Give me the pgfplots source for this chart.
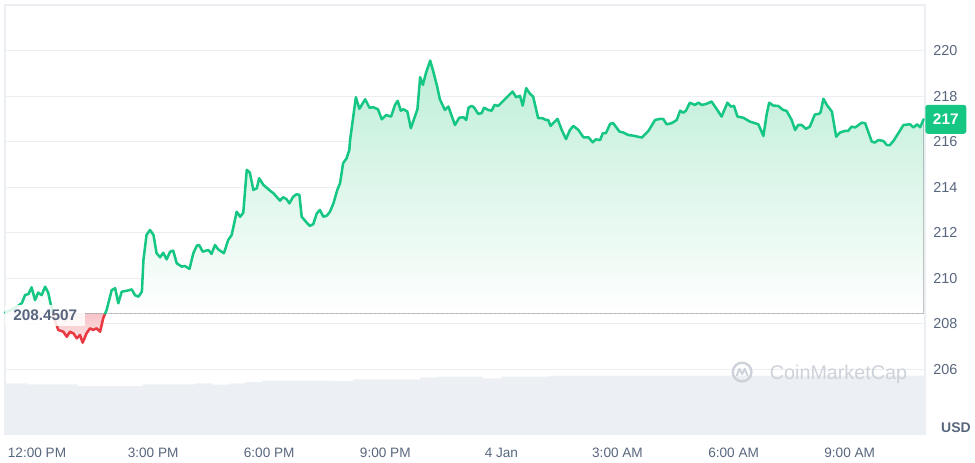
\documentclass[border=0pt]{standalone}
\usepackage{fontspec}
\setmainfont{Liberation Sans}
\usepackage{pgfplots}
\pgfplotsset{compat=1.18}
\usepgfplotslibrary{fillbetween}
\usepackage{pgfplotstable}

\definecolor{cmcgreen}{HTML}{16C784}
\definecolor{cmcred}{HTML}{EA3943}
\definecolor{tickgray}{HTML}{58667E}
\definecolor{gridgray}{HTML}{EBEEF2}
\definecolor{volgray}{HTML}{ECEFF3}
\definecolor{fillgreen}{HTML}{BDEED7}
\definecolor{fillred}{HTML}{F8C3C7}
\definecolor{wmgray}{HTML}{CDD2DA}
\definecolor{dotgray}{HTML}{A3ABB8}

\pgfplotstableread{
t p
11.173 208.49
11.43 208.69
11.61 208.91
11.69 209.26
11.78 209.31
11.86 209.60
11.95 209.04
12.03 209.37
12.12 209.26
12.21 209.63
12.29 209.37
12.34 208.97
12.41 208.45
12.44 208.25
12.55 207.73
12.68 207.65
12.77 207.43
12.85 207.65
12.94 207.58
13.03 207.36
13.11 207.51
13.18 207.17
13.28 207.58
13.37 207.80
13.45 207.73
13.54 207.80
13.63 207.65
13.71 208.24
13.76 208.45
13.80 208.61
13.93 209.48
14.02 209.56
14.10 208.90
14.19 209.41
14.32 209.45
14.45 209.51
14.53 209.26
14.62 209.19
14.71 209.41
14.75 210.80
14.83 211.90
14.92 212.12
15.01 211.90
15.09 211.10
15.18 210.92
15.26 211.12
15.35 210.83
15.44 211.17
15.52 211.21
15.61 210.66
15.74 210.51
15.82 210.54
15.94 210.41
16.04 211.10
16.13 211.43
16.19 211.46
16.28 211.17
16.43 211.24
16.51 211.07
16.60 211.46
16.68 211.27
16.83 211.10
16.94 211.68
17.03 211.90
17.16 212.92
17.25 212.70
17.33 212.88
17.42 214.76
17.50 214.64
17.59 213.88
17.68 213.95
17.74 214.39
17.85 214.10
18.02 213.85
18.11 213.73
18.28 213.41
18.36 213.56
18.45 213.47
18.52 213.29
18.62 213.58
18.71 213.69
18.78 213.66
18.84 212.70
18.97 212.44
19.05 212.30
19.14 212.38
19.23 212.85
19.31 213.00
19.40 212.70
19.49 212.75
19.57 212.92
19.66 213.29
19.76 213.88
19.83 214.17
19.91 215.05
20.00 215.27
20.07 215.64
20.09 216.07
20.24 217.95
20.33 217.44
20.48 217.86
20.59 217.49
20.69 217.51
20.81 217.42
20.91 216.98
21.02 217.17
21.15 217.10
21.25 217.61
21.32 217.79
21.40 217.36
21.47 217.42
21.57 217.32
21.66 216.59
21.83 217.42
21.90 218.83
21.97 218.49
22.05 219.01
22.16 219.56
22.24 219.08
22.34 218.42
22.41 217.86
22.54 217.39
22.63 217.54
22.80 216.73
22.91 217.05
23.02 217.07
23.09 216.95
23.15 217.49
23.23 217.57
23.29 217.51
23.40 217.22
23.49 217.25
23.55 217.49
23.66 217.39
23.75 217.36
23.82 217.61
23.92 217.57
24.05 217.79
24.29 218.20
24.38 217.95
24.48 218.01
24.55 217.58
24.64 218.35
24.74 218.10
24.82 217.98
24.95 217.03
25.06 217.03
25.15 216.95
25.21 216.95
25.27 216.69
25.34 216.81
25.45 217.00
25.56 216.51
25.67 216.11
25.77 216.51
25.86 216.69
25.99 216.51
26.12 216.19
26.25 216.19
26.36 215.97
26.44 216.10
26.55 216.07
26.62 216.37
26.70 216.37
26.81 216.78
26.89 216.81
27.05 216.44
27.15 216.40
27.28 216.29
27.45 216.25
27.51 216.22
27.63 216.18
27.80 216.47
27.97 216.95
28.10 217.00
28.18 217.00
28.27 216.76
28.40 216.81
28.53 216.95
28.62 217.36
28.70 217.27
28.77 217.36
28.87 217.71
29.00 217.61
29.09 217.71
29.18 217.61
29.30 217.66
29.43 217.76
29.52 217.54
29.69 217.10
29.84 217.71
29.93 217.54
30.01 217.57
30.10 217.10
30.25 217.05
30.42 216.88
30.64 216.76
30.77 216.25
30.86 217.25
30.92 217.71
31.03 217.58
31.15 217.57
31.28 217.39
31.37 217.35
31.50 216.95
31.59 216.51
31.67 216.73
31.76 216.73
31.87 216.56
31.97 216.66
32.10 217.19
32.21 217.22
32.25 217.30
32.32 217.88
32.41 217.61
32.54 217.32
32.65 216.22
32.75 216.40
32.88 216.47
32.96 216.47
33.05 216.66
33.14 216.62
33.31 216.83
33.40 216.81
33.57 216.00
33.65 215.96
33.74 216.07
33.87 216.03
33.96 215.85
34.04 215.85
34.13 216.03
34.39 216.73
34.56 216.76
34.65 216.62
34.74 216.76
34.82 216.63
34.91 216.98
}\price

\pgfplotstableread{
t v
11.173 50.7
11.74 49.7
13.06 48.0
14.74 49.7
16.08 50.7
16.55 49.3
16.99 50.7
17.37 52.0
17.81 53.3
19.57 53.0
20.17 54.7
21.90 56.7
22.34 57.3
23.52 55.7
24.02 57.3
25.26 58.3
34.946 58.3
}\volume

\begin{document}
\begin{tikzpicture}
% volume axis (behind)
\begin{axis}[
  at={(3.75pt,21pt)}, anchor=south west,
  scale only axis, width=690pt, height=321.75pt,
  xmin=11.173, xmax=34.946, ymin=0, ymax=429,
  hide axis,
]
\addplot[const plot, fill=volgray, draw=none] table[x=t,y=v] {\volume} \closedcycle;
\end{axis}

% price axis
\begin{axis}[
  at={(3.75pt,21pt)}, anchor=south west,
  scale only axis, width=690pt, height=321.75pt,
  xmin=11.173, xmax=34.946, ymin=203.16, ymax=222.0,
  clip=false,
  axis line style={gridgray, line width=0.8pt},
  ymajorgrids, major grid style={gridgray, line width=0.8pt},
  ytick={206,208,...,220},
  yticklabel pos=right,
  xtick={12,15,18,21,24,27,30,33},
  xticklabels={12:00 PM,3:00 PM,6:00 PM,9:00 PM,4 Jan,3:00 AM,6:00 AM,9:00 AM},
  major tick length=0pt,
  /pgf/number format/assume math mode=true,
  tick label style={text=tickgray},
  yticklabel style={anchor=west, inner xsep=0pt, xshift=6pt, font=\fontsize{10.8}{12}\selectfont},
  xticklabel style={anchor=center, yshift=-14.25pt, font=\fontsize{10.2}{12}\selectfont},
]
\addplot[draw=none, name path=price, forget plot] table[x=t,y=p] {\price};
\addplot[draw=none, name path=base, forget plot] coordinates {(11.173,208.4507) (34.91,208.4507)};
\addplot[forget plot, draw=none] fill between[of=price and base, split,
  every segment no 0/.style={top color=fillgreen!25!white, bottom color=white},
  every segment no 1/.style={top color=fillred, bottom color=fillred!45!white},
  every segment no 2/.style={top color=fillgreen, bottom color=white}];

\addplot[dotgray, line width=0.8pt, dash pattern=on 0.8pt off 2.8pt, forget plot]
  coordinates {(11.173,208.4507) (34.946,208.4507)};

\addplot[cmcgreen, line width=1.9pt, line join=round, line cap=round, restrict x to domain=11:12.415] table[x=t,y=p] {\price};
\addplot[cmcred, line width=1.9pt, line join=round, line cap=round, restrict x to domain=12.405:13.765] table[x=t,y=p] {\price};
\addplot[cmcgreen, line width=1.9pt, line join=round, line cap=round, restrict x to domain=13.755:36] table[x=t,y=p] {\price};

% baseline label
\node[anchor=west, fill=white, fill opacity=0.85, text opacity=1, text=tickgray,
  font=\bfseries\fontsize{11.5}{13}\selectfont, inner xsep=6pt, inner ysep=3.5pt, yshift=-1.5pt]
  at (axis cs:11.173,208.4507) {208.4507};

% last price badge
\node[anchor=west, fill=cmcgreen, rounded corners=2pt, text=white,
  font=\bfseries\fontsize{11.5}{13}\selectfont, minimum width=30.75pt, minimum height=21.75pt, inner sep=0pt]
  at (axis cs:34.946,216.98) {217};

% USD
\node[text=tickgray, font=\bfseries\fontsize{10.5}{12}\selectfont]
  at (axis cs:34.946,203.16) [xshift=23.25pt, yshift=4.5pt] {USD};

% watermark
\node[text=wmgray, font=\fontsize{14.8}{16}\selectfont] at (axis cs:32.71,205.79) {CoinMarketCap};
\node[circle, draw=wmgray, line width=1.8pt, minimum size=14pt, inner sep=0pt] (logo) at (axis cs:30.22,205.88) {};
\draw[wmgray, line width=1.4pt, line cap=round, line join=round]
  ([xshift=-4pt,yshift=-2.5pt]logo.center) -- ([xshift=-2pt,yshift=2.5pt]logo.center)
  -- ([xshift=0pt,yshift=-1.5pt]logo.center) -- ([xshift=2pt,yshift=2.5pt]logo.center)
  -- ([xshift=4pt,yshift=-2.5pt]logo.center);
\end{axis}
\pgfresetboundingbox
\path[use as bounding box] (0,0) rectangle (731.25pt,346.5pt);
\end{tikzpicture}
\end{document}
